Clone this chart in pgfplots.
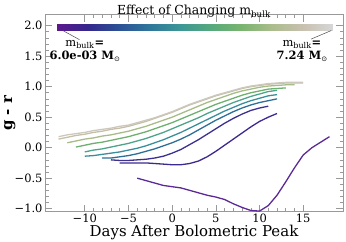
\documentclass[border=0pt]{standalone}
\usepackage{fontspec}
\setmainfont{DejaVu Serif}
\newfontfamily\symfont{DejaVu Sans}
\usepackage{pgfplots}
\pgfplotsset{compat=1.18}
\definecolor{cJ}{RGB}{92,42,150}
\definecolor{cI}{RGB}{62,42,143}
\definecolor{cH}{RGB}{60,48,145}
\definecolor{cG}{RGB}{46,110,152}
\definecolor{cF}{RGB}{58,142,156}
\definecolor{cE}{RGB}{79,163,138}
\definecolor{cD}{RGB}{109,176,112}
\definecolor{cC}{RGB}{168,188,136}
\definecolor{cB}{RGB}{197,191,168}
\definecolor{cA}{RGB}{204,200,190}
\pgfplotsset{colormap={mb}{rgb255=(92,24,140) rgb255=(52,40,140) rgb255=(44,80,150) rgb255=(46,118,155) rgb255=(60,150,150) rgb255=(85,168,125) rgb255=(120,180,110) rgb255=(170,188,140) rgb255=(200,192,175) rgb255=(214,214,214)}}
\begin{document}
\begin{tikzpicture}
\begin{axis}[
  width=298bp, height=197bp, scale only axis,
  xmin=-14.55, xmax=19.55, ymin=-1.05, ymax=2.18,
  xtick={-10,-5,0,5,10,15},
  xticklabels={−10,−5,0,5,10,15},
  ytick={-1,-0.5,0,0.5,1,1.5,2},
  yticklabels={−1.0,−0.5,0.0,0.5,1.0,1.5,2.0},
  minor x tick num=4, minor y tick num=4,
  tick align=inside, xtick pos=both, ytick pos=both,
  major tick length=7bp, minor tick length=3.5bp,
  tick style={color=gray!80, line width=0.6bp},
  axis line style={color=gray!80, line width=0.8bp},
  tick label style={font=\fontsize{11.5}{13}\selectfont},
  xticklabel style={yshift=1bp},
  yticklabel style={xshift=1bp},
  title={Effect of Changing m\textsubscript{bulk}},
  title style={font=\fontsize{12.5}{14}\selectfont, at={(axis description cs:0.5,1)}, anchor=base, yshift=-6bp},
  xlabel={Days After Bolometric Peak},
  xlabel style={font=\fontsize{15}{17}\selectfont, at={(axis description cs:0.5,0)}, anchor=base, yshift=-25bp},
  ylabel={\textbf{g - r}},
  ylabel style={font=\fontsize{15}{17}\selectfont, at={(axis description cs:-0.118,0.5)}, anchor=center},
  colormap name=mb,
  every axis plot/.append style={line width=1.3bp},
]
\addplot[surf, shader=interp, point meta=x, point meta min=-13.2, point meta max=18.3] coordinates {
(-13.2,1.92) (-10,1.92) (-6,1.92) (-2,1.92) (2,1.92) (6,1.92) (10,1.92) (14,1.92) (18.3,1.92)

(-13.2,2.02) (-10,2.02) (-6,2.02) (-2,2.02) (2,2.02) (6,2.02) (10,2.02) (14,2.02) (18.3,2.02)
};
\addplot[cJ] coordinates {(-4,-0.50) (-3,-0.54) (-2,-0.58) (-1,-0.62) (0,-0.64) (1,-0.66) (2,-0.70) (3,-0.74) (4,-0.78) (5,-0.81) (6,-0.85) (7,-0.92) (8,-0.98) (9,-1.03) (10,-1.04) (11,-0.95) (12,-0.78) (13,-0.56) (14,-0.33) (15,-0.12) (16,0.00) (17,0.09) (18,0.18)};
\addplot[cI] coordinates {(-6,-0.25) (-5,-0.25) (-4,-0.25) (-3,-0.25) (-2,-0.26) (-1,-0.27) (0,-0.28) (1,-0.28) (2,-0.26) (3,-0.22) (4,-0.15) (5,-0.06) (6,0.04) (7,0.14) (8,0.24) (9,0.34) (10,0.43) (11,0.50) (12,0.56)};
\addplot[cH] coordinates {(-7,-0.20) (-6,-0.21) (-5,-0.21) (-4,-0.20) (-3,-0.19) (-2,-0.17) (-1,-0.14) (0,-0.09) (1,-0.03) (2,0.05) (3,0.13) (4,0.22) (5,0.31) (6,0.40) (7,0.48) (8,0.55) (9,0.61) (10,0.65) (11,0.68)};
\addplot[cG] coordinates {(-8,-0.17) (-7,-0.17) (-6,-0.15) (-5,-0.13) (-4,-0.10) (-3,-0.06) (-2,-0.02) (-1,0.03) (0,0.08) (1,0.14) (2,0.21) (3,0.29) (4,0.37) (5,0.45) (6,0.52) (7,0.59) (8,0.65) (9,0.70) (10,0.74) (11,0.77) (12,0.80)};
\addplot[cF] coordinates {(-10,-0.14) (-9,-0.13) (-8,-0.11) (-7,-0.09) (-6,-0.07) (-5,-0.04) (-4,-0.01) (-3,0.03) (-2,0.08) (-1,0.13) (0,0.19) (1,0.25) (2,0.32) (3,0.39) (4,0.46) (5,0.53) (6,0.60) (7,0.66) (8,0.72) (9,0.77) (10,0.81) (11,0.85) (12,0.87)};
\addplot[cE] coordinates {(-10,-0.07) (-9,-0.04) (-8,-0.02) (-7,0.01) (-6,0.04) (-5,0.07) (-4,0.11) (-3,0.15) (-2,0.20) (-1,0.25) (0,0.31) (1,0.37) (2,0.43) (3,0.49) (4,0.56) (5,0.62) (6,0.68) (7,0.74) (8,0.79) (9,0.84) (10,0.88) (11,0.92) (12,0.94)};
\addplot[cD] coordinates {(-11,0.01) (-10,0.04) (-9,0.07) (-8,0.09) (-7,0.12) (-6,0.15) (-5,0.18) (-4,0.22) (-3,0.26) (-2,0.31) (-1,0.36) (0,0.41) (1,0.47) (2,0.53) (3,0.59) (4,0.65) (5,0.71) (6,0.76) (7,0.81) (8,0.86) (9,0.90) (10,0.93) (11,0.96) (12,0.97) (13,0.98)};
\addplot[cC] coordinates {(-12,0.08) (-11,0.11) (-10,0.14) (-9,0.16) (-8,0.19) (-7,0.21) (-6,0.24) (-5,0.27) (-4,0.31) (-3,0.35) (-2,0.40) (-1,0.45) (0,0.50) (1,0.56) (2,0.62) (3,0.68) (4,0.74) (5,0.79) (6,0.84) (7,0.89) (8,0.93) (9,0.96) (10,0.99) (11,1.01) (12,1.02) (13,1.03) (14,1.03)};
\addplot[cB] coordinates {(-13,0.14) (-12,0.17) (-11,0.20) (-10,0.22) (-9,0.25) (-8,0.27) (-7,0.30) (-6,0.32) (-5,0.35) (-4,0.39) (-3,0.43) (-2,0.48) (-1,0.53) (0,0.58) (1,0.64) (2,0.70) (3,0.75) (4,0.80) (5,0.85) (6,0.89) (7,0.93) (8,0.97) (9,1.00) (10,1.02) (11,1.04) (12,1.05) (13,1.06) (14,1.06) (15,1.06)};
\addplot[cA] coordinates {(-13,0.18) (-12,0.21) (-11,0.23) (-10,0.25) (-9,0.28) (-8,0.30) (-7,0.32) (-6,0.35) (-5,0.37) (-4,0.41) (-3,0.45) (-2,0.49) (-1,0.54) (0,0.59) (1,0.65) (2,0.71) (3,0.76) (4,0.81) (5,0.86) (6,0.90) (7,0.94) (8,0.98) (9,1.01) (10,1.03) (11,1.05) (12,1.06) (13,1.07) (14,1.07) (15,1.07)};
\draw[black!70, line width=0.5bp] (axis cs:-12.5,1.92) -- (axis cs:-10.6,1.77);
\draw[black!70, line width=0.5bp] (axis cs:18.2,1.92) -- (axis cs:15.9,1.78);
\node[align=center, font=\fontsize{11.5}{12.5}\selectfont, inner sep=0pt] at (axis cs:-10.0,1.585) {m\textsubscript{bulk}\textbf{=}\\ \textbf{6.0e-03 M}\raisebox{-0.4ex}{\symfont\scriptsize ⊙}};
\node[align=center, font=\fontsize{11.5}{12.5}\selectfont, inner sep=0pt] at (axis cs:14.85,1.585) {m\textsubscript{bulk}\textbf{=}\\ \textbf{7.24 M}\raisebox{-0.4ex}{\symfont\scriptsize ⊙}};
\end{axis}
\pgfresetboundingbox
\useasboundingbox ([xshift=-45bp,yshift=-30bp]current axis.south west) rectangle ([xshift=3bp,yshift=14.7bp]current axis.north east);
\end{tikzpicture}
\end{document}
